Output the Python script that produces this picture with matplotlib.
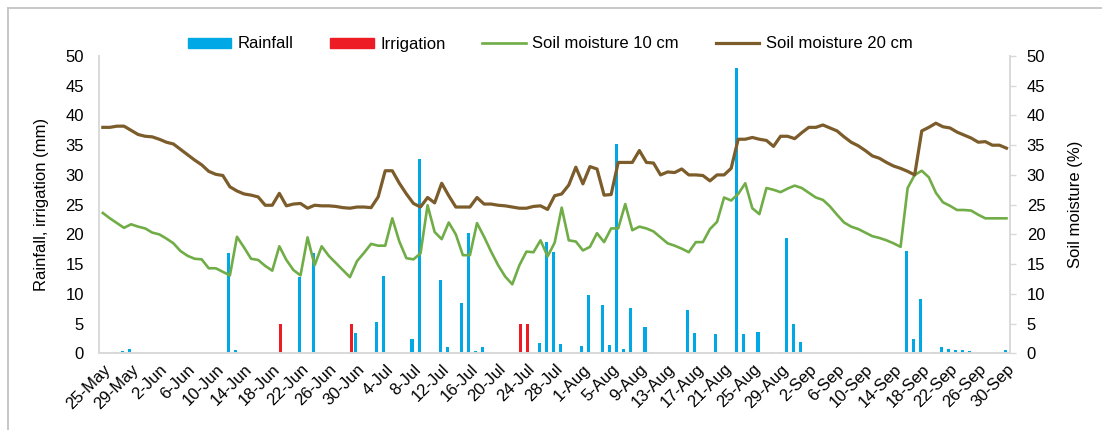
import matplotlib
matplotlib.use("Agg")
from matplotlib import pyplot as plt
from matplotlib.patches import Patch
from matplotlib.lines import Line2D
import pandas as pd
import numpy as np

plt.rcParams['font.family'] = ['Liberation Sans', 'DejaVu Sans']

# daily dates, 25 May - 30 Sep
dates = pd.date_range("2020-05-25", "2020-09-30", freq="D")
date_labels = [f"{d.day}-{d.strftime('%b')}" for d in dates]

# rainfall (mm), by day index
rain_days = [0, 2, 3, 4, 5, 18, 19, 28, 30, 31, 36, 39, 40, 41, 44, 45, 46, 48, 49, 50,
             51, 52, 53, 54, 62, 63, 64, 65, 68, 69, 71, 72, 73, 74, 75, 77, 78,
             83, 84, 87, 90, 91, 93, 95, 96, 97, 98, 99, 107, 114, 115, 116, 118,
             119, 120, 121, 122, 123, 128]
rain_mm = [0.15, 0.15, 0.35, 0.8, 0.2, 16.8, 0.6, 12.8, 16.8, 0.2, 3.4, 5.2, 13.0, 0.2, 2.35, 32.6, 0.2, 12.3, 1.0, 0.3,
           8.4, 20.2, 0.4, 1.0, 1.8, 18.8, 17.0, 1.6, 1.2, 9.75, 8.1, 1.4, 35.2, 0.7, 7.6, 4.4, 0.2,
           7.2, 3.4, 3.2, 48.0, 3.2, 3.6, 0.2, 0.2, 19.4, 4.9, 1.95, 0.2, 17.2, 2.35, 9.2, 0.2,
           1.0, 0.8, 0.6, 0.6, 0.4, 0.6]

# irrigation (mm)
irr_days = [25, 35, 59, 60]
irr_mm = [5, 5, 5, 5]

# soil moisture (%) at 10 cm
sm10 = [23.6, 22.7, 21.9, 21.1, 21.7, 21.3, 21.0, 20.3, 20.0, 19.3,
        18.5, 17.2, 16.4, 15.9, 15.8, 14.3, 14.3, 13.7, 13.1, 19.6,
        17.8, 15.9, 15.7, 14.7, 13.9, 18.0, 15.7, 14.0, 13.1, 19.5,
        14.8, 18.0, 16.4, 15.2, 14.0, 12.8, 15.5, 16.9, 18.4, 18.1,
        18.1, 22.7, 18.8, 16.0, 15.8, 16.8, 24.9, 20.4, 19.2, 22.0,
        20.0, 16.5, 16.5, 21.9, 19.6, 17.1, 14.8, 12.9, 11.6, 14.8,
        17.1, 17.0, 19.0, 16.3, 18.6, 24.5, 19.0, 18.8, 17.3, 17.9,
        20.2, 18.7, 21.0, 21.0, 25.1, 20.7, 21.3, 21.0, 20.5, 19.5,
        18.5, 18.1, 17.6, 17.0, 18.7, 18.7, 20.9, 22.1, 26.2, 25.7,
        26.8, 28.6, 24.4, 23.4, 27.8, 27.5, 27.1, 27.7, 28.2, 27.8,
        27.0, 26.2, 25.8, 24.7, 23.3, 22.0, 21.3, 20.9, 20.3, 19.7,
        19.4, 19.0, 18.5, 17.9, 27.8, 30.0, 30.7, 29.6, 27.0, 25.4,
        24.8, 24.1, 24.1, 24.0, 23.3, 22.7, 22.7, 22.7, 22.7]

# soil moisture (%) at 20 cm
sm20 = [38.0, 38.0, 38.2, 38.2, 37.5, 36.8, 36.5, 36.4, 36.0, 35.5,
        35.2, 34.3, 33.4, 32.5, 31.7, 30.6, 30.1, 29.9, 28.0, 27.3,
        26.8, 26.6, 26.3, 24.9, 24.9, 26.9, 24.8, 25.1, 25.2, 24.4,
        24.9, 24.8, 24.8, 24.7, 24.5, 24.4, 24.6, 24.6, 24.5, 26.3,
        30.7, 30.7, 28.6, 26.8, 25.2, 24.6, 26.2, 25.3, 28.6, 26.5,
        24.6, 24.6, 24.6, 26.2, 25.1, 25.1, 24.9, 24.8, 24.6, 24.4,
        24.4, 24.7, 24.8, 24.2, 26.5, 26.8, 28.3, 31.3, 28.5, 31.4,
        31.0, 26.6, 26.7, 32.1, 32.1, 32.1, 34.1, 32.1, 32.0, 30.0,
        30.5, 30.4, 31.0, 30.0, 30.0, 29.9, 29.0, 30.0, 30.0, 31.1,
        36.0, 36.0, 36.3, 36.0, 35.8, 34.8, 36.5, 36.5, 36.1, 37.1,
        38.0, 38.0, 38.4, 37.9, 37.4, 36.4, 35.5, 34.9, 34.1, 33.2,
        32.8, 32.1, 31.5, 31.1, 30.6, 30.0, 37.4, 38.0, 38.7, 38.1,
        37.9, 37.2, 36.7, 36.2, 35.5, 35.6, 35.0, 35.0, 34.5]

blue = '#00A9E6'
red = '#ED1C24'
green = '#70AD47'
brown = '#7B5C2A'
axis_gray = '#D9D9D9'
fs = 12

fig = plt.figure(figsize=(11.02, 4.30), dpi=100)
ax = fig.add_axes([99.3 / 1102, 1 - 353.3 / 430, (1010 - 99.3) / 1102, (353.3 - 56) / 430])

ax.bar(np.array(rain_days) - 0.2, rain_mm, width=0.44, color=blue, zorder=2)
ax.bar(np.array(irr_days) + 0.2, irr_mm, width=0.44, color=red, zorder=2)

ax.set_xlim(-0.5, len(dates) - 0.5)
ax.set_ylim(0, 50)
ax.set_yticks(np.arange(0, 51, 5))
ax.set_xticks(np.arange(0, len(dates), 4))
ax.set_xticklabels(date_labels[::4], rotation=45, ha='right', va='top',
                   rotation_mode='anchor', fontsize=fs)
ax.tick_params(axis='x', length=0, pad=6)
ax.tick_params(axis='y', length=0, pad=11, labelsize=fs)
ax.set_ylabel("Rainfall, irrigation (mm)", fontsize=fs, labelpad=12)

ax2 = ax.twinx()
ax2.plot(range(len(dates)), sm10, color=green, linewidth=1.9, zorder=3)
ax2.plot(range(len(dates)), sm20, color=brown, linewidth=2.3, zorder=3)
ax2.set_ylim(0, 50)
ax2.set_yticks(np.arange(0, 51, 5))
ax2.tick_params(axis='y', length=4, width=1, color=axis_gray, pad=8, labelsize=fs)
ax2.set_ylabel("Soil moisture (%)", fontsize=fs, labelpad=16)

for a in (ax, ax2):
    a.spines['top'].set_visible(False)
    for s in ('left', 'right', 'bottom'):
        a.spines[s].set_color(axis_gray)
        a.spines[s].set_linewidth(1.2)

# legend along the top
handles = [Patch(color=blue), Patch(color=red),
           Line2D([], [], color=green, linewidth=1.9),
           Line2D([], [], color=brown, linewidth=2.3)]
labels = ["Rainfall", "Irrigation", "Soil moisture 10 cm", "Soil moisture 20 cm"]
fig.legend(handles, labels, loc='center', bbox_to_anchor=(550 / 1102, 1 - 44 / 430),
           ncol=4, frameon=False, fontsize=fs, handlelength=2.6, handleheight=0.55,
           handletextpad=0.4, columnspacing=2.2)

# chart area border (top and left edges visible)
fig.add_artist(Line2D([8 / 1102, 1], [1 - 8 / 430, 1 - 8 / 430], color='#BFBFBF', linewidth=1.2))
fig.add_artist(Line2D([8 / 1102, 8 / 1102], [0, 1 - 8 / 430], color='#BFBFBF', linewidth=1.2))

fig.savefig("out.png", dpi=100)
